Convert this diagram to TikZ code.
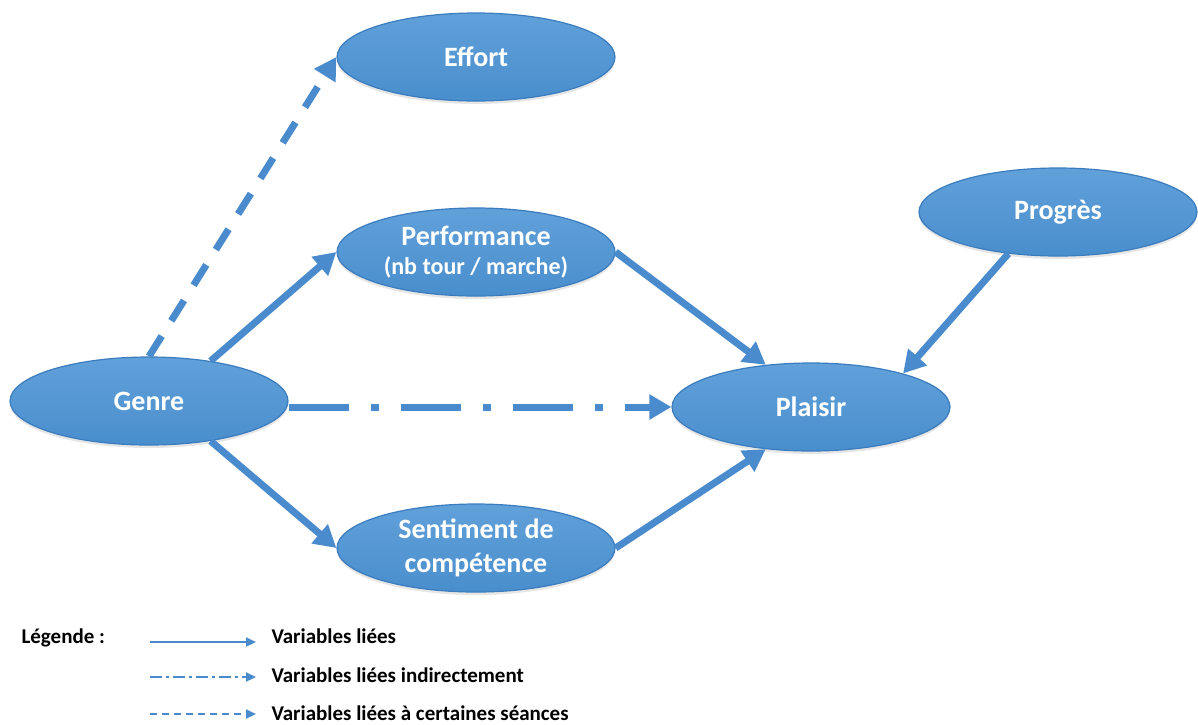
\documentclass[tikz,border=0pt]{standalone}
\usepackage{fontspec}
\setmainfont{Carlito}
\usetikzlibrary{shapes.geometric,arrows.meta,shadows}

\definecolor{nodeblue}{RGB}{76,148,213}
\definecolor{rimblue}{RGB}{58,124,190}
\definecolor{arrowblue}{RGB}{74,139,205}

\tikzset{
  var/.style={ellipse, draw=rimblue, line width=1.2pt, top color=nodeblue!88!white, bottom color=nodeblue!96!black,
    minimum width=278pt, minimum height=88pt, inner sep=0pt, text=white, align=center,
    font=\fontsize{28}{34}\selectfont\bfseries,
    drop shadow={opacity=0.2, shadow xshift=0pt, shadow yshift=-3pt}},
  link/.style={draw=arrowblue, line width=7pt, -{Triangle[length=22pt,width=24pt]}},
  indirect/.style={link, dash pattern=on 60pt off 22pt on 8pt off 22pt},
  some/.style={link, dash pattern=on 24pt off 18pt},
  legline/.style={draw=arrowblue, line width=2pt, -{Triangle[length=10pt,width=9pt]}},
  legtext/.style={anchor=west, font=\fontsize{21}{25}\selectfont\bfseries}
}

\begin{document}
\begin{tikzpicture}[x=1pt,y=-1pt]

  \useasboundingbox (0,0) rectangle (1198,724);

  % variables
  \node [var] (effort) at (476,57) {Effort};
  \node [var] (perf) at (476,252) {Performance\\[-5pt]{\fontsize{24}{29}\selectfont (nb tour / marche)}};
  \node [var] (genre) at (149,401) {Genre};
  \node [var] (plaisir) at (811,407) {Plaisir};
  \node [var] (sentiment) at (476,548) {Sentiment de\\compétence};
  \node [var] (progres) at (1058,212) {Progrès};

  % links
  \draw [some] (genre.north) -- (effort.west);
  \draw [link] (genre.33) -- (perf.west);
  \draw [indirect] (genre.east |- plaisir.west) -- (plaisir.west);
  \draw [link] (genre.-33) -- (sentiment.west);
  \draw [link] (perf.east) -- (plaisir.137);
  \draw [link] (sentiment.east) -- (plaisir.223);
  \draw [link] (progres.220) -- (plaisir.20);

  % legend
  \node [legtext] (legende) at (18,638) {Légende :};
  \node [legtext] (lab1) at (268,636) {Variables liées};
  \node [legtext] (lab2) at (268,675) {Variables liées indirectement};
  \node [legtext] (lab3) at (268,713) {Variables liées à certaines séances};
  \coordinate (s1) at (150,642);
  \coordinate (e1) at (256,642);
  \coordinate (s2) at (150,677);
  \coordinate (e2) at (256,677);
  \coordinate (s3) at (150,714);
  \coordinate (e3) at (256,714);
  \draw [legline] (s1) -- (e1);
  \draw [legline, dash pattern=on 12pt off 4pt on 3pt off 4pt] (s2) -- (e2);
  \draw [legline, dash pattern=on 7pt off 5pt] (s3) -- (e3);

\end{tikzpicture}
\end{document}
